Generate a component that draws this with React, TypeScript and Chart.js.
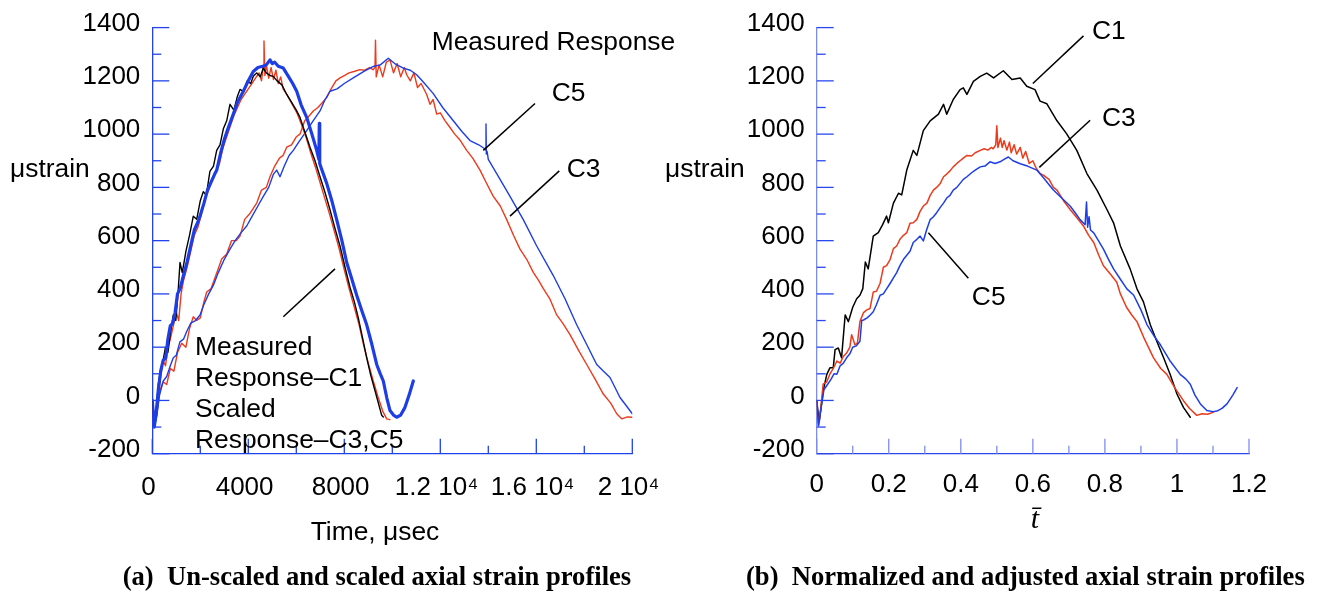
import React, { useEffect, useRef } from "react";
import { Chart, registerables } from "chart.js";

Chart.register(...registerables);

const SANS = '"Liberation Sans", Arial, Helvetica, sans-serif';
const SERIF = '"Liberation Serif", "Times New Roman", serif';

const AXIS_A = "#2142ef";
const AXIS_B_H = "#2a48ef";
const AXIS_B_V = "#7d8cf1";
const RED = "#ec3a1c";
const BLUE = "#1d3ee6";
const BLACK = "#000000";

// ---------------- Panel (a): time in microseconds ----------------
const c1MeasT = [0, 80, 160, 250, 350, 450, 550, 650, 750, 875, 980, 1083, 1154, 1250, 1400, 1550, 1708, 1850, 2000, 2125, 2250, 2400, 2550, 2683, 2820, 2960, 3100, 3237, 3400, 3540, 3654, 3800, 3950, 4100, 4208, 4350, 4500, 4625, 4750, 4900, 5042, 5200, 5400, 5600, 5800, 6000, 6154, 6350, 6571, 6780, 6988, 7200, 7404, 7600, 7821, 8030, 8237, 8420, 8583, 8750, 8933, 9100, 9300, 9450, 9558, 9625];
const c1MeasV = [0, -95, -40, 60, 118, 150, 200, 180, 250, 321, 300, 419, 518, 480, 560, 620, 692, 680, 750, 784, 770, 860, 880, 939, 960, 1020, 1050, 1112, 1090, 1140, 1168, 1160, 1200, 1190, 1217, 1230, 1215, 1248, 1230, 1220, 1217, 1200, 1185, 1149, 1120, 1090, 1063, 1010, 951, 900, 840, 780, 716, 650, 580, 500, 425, 370, 310, 240, 160, 95, 30, -20, -56, -62];

const c3ScaledT = [0, 80, 160, 250, 350, 450, 550, 650, 750, 875, 1000, 1100, 1200, 1300, 1450, 1600, 1750, 1900, 2050, 2200, 2350, 2500, 2650, 2800, 2950, 3100, 3250, 3400, 3550, 3700, 3850, 4000, 4150, 4300, 4450, 4550, 4620, 4654, 4690, 4750, 4850, 4950, 5050, 5150, 5250, 5350, 5450, 5600, 5750, 5900, 6050, 6200, 6400, 6600, 6800, 7000, 7200, 7400, 7600, 7800, 8000, 8200, 8400, 8600, 8800, 9000, 9200, 9400, 9600, 9767, 9900];
const c3ScaledV = [0, -100, -60, 20, 90, 150, 130, 200, 230, 280, 330, 300, 400, 450, 500, 560, 620, 650, 700, 760, 790, 830, 860, 890, 950, 990, 1030, 1070, 1100, 1130, 1150, 1170, 1190, 1210, 1230, 1200, 1250, 1350, 1220, 1260, 1210, 1250, 1205, 1240, 1190, 1215, 1170, 1150, 1125, 1100, 1075, 1040, 990, 930, 875, 815, 755, 695, 630, 565, 490, 420, 355, 290, 210, 140, 75, 15, -40, -69, -72];

const c5ScaledT = [0, 80, 160, 250, 350, 450, 558, 650, 750, 850, 950, 1050, 1154, 1300, 1450, 1600, 1750, 1900, 1988, 2150, 2300, 2450, 2600, 2683, 2850, 3000, 3150, 3375, 3550, 3792, 4000, 4208, 4400, 4600, 4750, 4904, 5000, 5100, 5250, 5458, 5650, 5850, 6017, 6200, 6433, 6650, 6850, 6940, 6958, 6976, 7050, 7267, 7480, 7683, 7900, 8100, 8300, 8517, 8720, 8933, 9150, 9350, 9500, 9625, 9770, 9904, 10050, 10183, 10350, 10529, 10700, 10875];
const c5ScaledV = [0, -100, -50, 40, 110, 150, 160, 230, 280, 290, 330, 400, 419, 470, 520, 580, 640, 670, 692, 740, 790, 820, 850, 864, 930, 980, 1020, 1075, 1120, 1161, 1200, 1235, 1250, 1255, 1260, 1279, 1265, 1270, 1255, 1248, 1220, 1190, 1161, 1110, 1063, 1000, 939, 905, 1040, 890, 870, 815, 750, 679, 600, 518, 460, 395, 340, 284, 210, 135, 100, 73, 10, -38, -55, -63, -55, -26, 20, 73];

const c3MeasT = [0, 100, 200, 321, 450, 600, 750, 900, 1050, 1225, 1400, 1550, 1708, 1850, 2000, 2150, 2267, 2450, 2650, 2892, 3100, 3300, 3500, 3654, 3850, 4050, 4200, 4350, 4550, 4750, 4904, 5100, 5300, 5450, 5600, 5800, 6000, 6154, 6350, 6550, 6708, 6900, 7100, 7267, 7450, 7650, 7821, 8000, 8200, 8400, 8654, 8850, 9050, 9200, 9279, 9300, 9330, 9450, 9600, 9750, 9904, 10050, 10200, 10350, 10500, 10600, 10750, 10900, 11050, 11200, 11433, 11571, 11700, 11850, 12000, 12200, 12404, 12600, 12800, 13100, 13350, 13654, 13900, 14208, 14500, 14767, 15050, 15321, 15600, 15875, 16100, 16292, 16571, 16850, 17100, 17404, 17750, 18100, 18450, 18792, 19100, 19350, 19558, 19800, 20000];
const c3MeasV = [0, -95, -40, 36, 70, 60, 120, 110, 180, 215, 200, 270, 314, 300, 310, 370, 407, 420, 470, 531, 550, 600, 600, 617, 680, 700, 720, 741, 790, 800, 840, 880, 910, 920, 951, 960, 990, 1000, 1050, 1070, 1087, 1100, 1120, 1137, 1170, 1200, 1211, 1220, 1230, 1235, 1242, 1240, 1250, 1242, 1250, 1353, 1215, 1260, 1215, 1270, 1279, 1230, 1265, 1215, 1250, 1223, 1200, 1230, 1175, 1190, 1149, 1112, 1130, 1075, 1080, 1050, 1025, 1000, 980, 939, 910, 865, 820, 766, 730, 679, 620, 568, 530, 481, 450, 420, 380, 321, 290, 247, 190, 135, 80, 24, -10, -50, -69, -62, -63];

const c5MeasT = [0, 100, 200, 300, 458, 600, 750, 875, 1000, 1150, 1300, 1433, 1600, 1800, 1988, 2150, 2350, 2542, 2750, 3000, 3237, 3450, 3700, 3933, 4150, 4400, 4625, 4850, 5050, 5183, 5321, 5500, 5700, 5875, 6100, 6433, 6700, 6988, 7200, 7404, 7700, 8000, 8375, 8800, 9208, 9500, 9833, 10100, 10458, 10750, 11017, 11300, 11708, 12100, 12542, 12900, 13238, 13600, 13850, 13890, 13904, 13918, 13950, 14000, 14350, 14904, 15458, 16017, 16708, 17196, 17683, 18100, 18517, 18800, 19071, 19488, 19750, 20000];
const c5MeasV = [0, -95, -50, 20, 73, 90, 130, 160, 170, 220, 230, 259, 290, 300, 321, 360, 400, 432, 480, 530, 568, 600, 630, 655, 690, 730, 766, 800, 850, 865, 840, 880, 920, 939, 970, 1013, 1050, 1087, 1130, 1161, 1170, 1190, 1211, 1235, 1254, 1260, 1285, 1265, 1248, 1240, 1223, 1195, 1152, 1100, 1050, 1010, 976, 960, 945, 940, 1038, 925, 935, 905, 852, 766, 679, 580, 469, 382, 284, 210, 135, 110, 86, 11, -20, -50];

// ---------------- Panel (b): normalized time ----------------
const c1NormT = [0, 0.007, 0.018, 0.028, 0.037, 0.046, 0.051, 0.06, 0.069, 0.079, 0.088, 0.1, 0.111, 0.12, 0.128, 0.135, 0.143, 0.157, 0.171, 0.183, 0.194, 0.199, 0.213, 0.227, 0.236, 0.25, 0.268, 0.278, 0.296, 0.315, 0.338, 0.352, 0.361, 0.379, 0.398, 0.407, 0.417, 0.435, 0.454, 0.472, 0.491, 0.518, 0.542, 0.565, 0.583, 0.606, 0.62, 0.639, 0.667, 0.694, 0.722, 0.75, 0.778, 0.806, 0.824, 0.843, 0.87, 0.889, 0.907, 0.926, 0.944, 0.963, 0.981, 1.0, 1.018, 1.037];
const c1NormV = [0, -81, 36, 98, 123, 123, 191, 197, 160, 321, 296, 350, 382, 395, 420, 520, 494, 617, 630, 660, 692, 667, 741, 778, 772, 865, 939, 920, 1013, 1050, 1075, 1112, 1075, 1130, 1167, 1174, 1149, 1198, 1217, 1229, 1211, 1238, 1205, 1211, 1180, 1167, 1124, 1114, 1050, 1001, 939, 852, 790, 716, 667, 580, 494, 419, 370, 284, 222, 160, 98, 24, -26, -63];

const c3NormT = [0, 0.005, 0.012, 0.018, 0.028, 0.037, 0.046, 0.056, 0.065, 0.074, 0.083, 0.092, 0.097, 0.106, 0.113, 0.12, 0.13, 0.139, 0.148, 0.157, 0.166, 0.176, 0.185, 0.194, 0.204, 0.213, 0.222, 0.231, 0.241, 0.25, 0.259, 0.268, 0.278, 0.287, 0.296, 0.306, 0.315, 0.324, 0.333, 0.343, 0.352, 0.361, 0.37, 0.379, 0.389, 0.398, 0.407, 0.417, 0.43, 0.44, 0.454, 0.465, 0.475, 0.485, 0.49, 0.497, 0.5, 0.503, 0.51, 0.515, 0.52, 0.528, 0.535, 0.54, 0.548, 0.555, 0.565, 0.572, 0.58, 0.59, 0.6, 0.61, 0.62, 0.63, 0.645, 0.657, 0.667, 0.685, 0.704, 0.72, 0.741, 0.755, 0.769, 0.783, 0.796, 0.815, 0.833, 0.843, 0.86, 0.875, 0.889, 0.91, 0.935, 0.955, 0.972, 0.995, 1.018, 1.035, 1.055, 1.07, 1.085, 1.102];
const c3NormV = [0, -95, -20, 61, 70, 100, 120, 148, 140, 165, 178, 200, 247, 209, 215, 296, 330, 340, 345, 407, 410, 440, 500, 506, 530, 570, 580, 605, 620, 630, 665, 667, 680, 710, 730, 741, 770, 790, 800, 815, 840, 850, 862, 877, 890, 900, 910, 920, 918, 930, 939, 945, 940, 950, 945, 960, 1031, 950, 985, 950, 975, 940, 970, 930, 960, 925, 950, 910, 935, 890, 900, 870, 852, 845, 830, 800, 790, 750, 716, 690, 654, 620, 593, 545, 506, 475, 444, 400, 350, 320, 296, 230, 160, 120, 98, 45, -1, -30, -56, -50, -52, -44];

const c5NormT = [0, 0.005, 0.012, 0.02, 0.03, 0.04, 0.048, 0.056, 0.065, 0.074, 0.083, 0.092, 0.1, 0.11, 0.12, 0.125, 0.13, 0.14, 0.148, 0.157, 0.166, 0.176, 0.185, 0.194, 0.204, 0.213, 0.222, 0.231, 0.241, 0.25, 0.259, 0.268, 0.278, 0.287, 0.296, 0.305, 0.315, 0.324, 0.333, 0.343, 0.352, 0.361, 0.37, 0.379, 0.389, 0.398, 0.407, 0.417, 0.43, 0.44, 0.454, 0.467, 0.481, 0.495, 0.509, 0.52, 0.532, 0.545, 0.565, 0.585, 0.611, 0.63, 0.645, 0.657, 0.68, 0.704, 0.72, 0.731, 0.745, 0.749, 0.752, 0.756, 0.76, 0.769, 0.782, 0.796, 0.81, 0.824, 0.843, 0.861, 0.88, 0.9, 0.917, 0.935, 0.954, 0.98, 1.009, 1.025, 1.037, 1.05, 1.065, 1.083, 1.1, 1.111, 1.125, 1.139, 1.155, 1.167];
const c5NormV = [0, -95, -30, 40, 60, 80, 100, 98, 130, 140, 160, 175, 200, 205, 222, 300, 302, 310, 320, 333, 360, 395, 400, 419, 440, 460, 480, 506, 530, 545, 560, 593, 605, 617, 599, 640, 679, 690, 705, 725, 741, 760, 770, 790, 800, 815, 830, 840, 855, 865, 877, 880, 896, 890, 896, 905, 914, 900, 889, 880, 865, 835, 810, 790, 760, 729, 700, 679, 660, 745, 650, 690, 640, 629, 600, 568, 530, 494, 455, 419, 395, 340, 284, 245, 209, 150, 98, 80, 61, 20, -13, -38, -42, -40, -30, -13, 20, 48];

// ---------------- Ticks ----------------
const xTicksA = [0, 4000, 8000, 12000, 16000, 20000];
const xTickLabelsA = ["0", "4000", "8000", "1.2 10\u2074", "1.6 10\u2074", "2 10\u2074"];
const xTicksB = [0, 0.2, 0.4, 0.6, 0.8, 1, 1.2];
const xTickLabelsB = ["0", "0.2", "0.4", "0.6", "0.8", "1", "1.2"];
const yTicks = [-200, 0, 200, 400, 600, 800, 1000, 1200, 1400];
const yTickLabels = ["-200", "0", "200", "400", "600", "800", "1000", "1200", "1400"];

const makeXY = (xs: number[], ys: number[]) => xs.map((x, i) => ({ x, y: ys[i] }));

function labelFor(v: number, values: number[], labels: string[]): string {
  for (let i = 0; i < values.length; i++) {
    if (Math.abs(v - values[i]) < 1e-6 * Math.max(1, Math.abs(values[i]))) return labels[i];
  }
  return "";
}

type Ann =
  | { kind: "text"; text: string; x: number; y: number; data: boolean; font: string; align?: CanvasTextAlign }
  | { kind: "line"; x1: number; y1: number; x2: number; y2: number };

function tickMarksPlugin(colorV: string, colorH: string, xMajors: number[], xLen: [number, number], yLen: [number, number]) {
  return {
    id: "tickMarks",
    afterDraw(chart: any) {
      const { ctx, chartArea, scales } = chart;
      ctx.save();
      ctx.lineWidth = 1.3;
      ctx.strokeStyle = colorV;
      for (const t of scales.x.ticks) {
        const px = scales.x.getPixelForValue(t.value);
        const major = labelFor(t.value, xMajors, xMajors.map(String)) !== "";
        ctx.beginPath();
        ctx.moveTo(px, chartArea.bottom);
        ctx.lineTo(px, chartArea.bottom - (major ? xLen[0] : xLen[1]));
        ctx.stroke();
      }
      ctx.strokeStyle = colorH;
      for (const t of scales.y.ticks) {
        const py = scales.y.getPixelForValue(t.value);
        const major = labelFor(t.value, yTicks, yTickLabels) !== "";
        ctx.beginPath();
        ctx.moveTo(chartArea.left, py);
        ctx.lineTo(chartArea.left + (major ? yLen[0] : yLen[1]), py);
        ctx.stroke();
      }
      ctx.restore();
    },
  };
}

function annotationPlugin(items: Ann[]) {
  return {
    id: "annotations",
    afterDraw(chart: any) {
      const { ctx, scales } = chart;
      const X = (v: number) => scales.x.getPixelForValue(v);
      const Y = (v: number) => scales.y.getPixelForValue(v);
      ctx.save();
      for (const a of items) {
        if (a.kind === "line") {
          ctx.strokeStyle = "#000";
          ctx.lineWidth = 1.5;
          ctx.beginPath();
          ctx.moveTo(X(a.x1), Y(a.y1));
          ctx.lineTo(X(a.x2), Y(a.y2));
          ctx.stroke();
        } else {
          ctx.fillStyle = "#000";
          ctx.font = a.font;
          ctx.textAlign = a.align || "left";
          ctx.textBaseline = "alphabetic";
          const px = a.data ? X(a.x) : a.x;
          const py = a.data ? Y(a.y) : a.y;
          ctx.fillText(a.text, px, py);
        }
      }
      ctx.restore();
    },
  };
}

const F26 = `26.4px ${SANS}`;
const CAPTION = `bold 26.6px ${SERIF}`;

function baseOptions(opts: {
  xMin: number; xMax: number; xStep: number; xVals: number[]; xLabels: string[];
  axisV: string; axisH: string; padRight: number; yWidth: number; xPad: number; xLabelOffset: number;
}) {
  return {
    animation: false,
    responsive: false,
    devicePixelRatio: 1,
    layout: { padding: { left: 0, top: 22.3, right: opts.padRight, bottom: 0 } },
    plugins: { legend: { display: false }, tooltip: { enabled: false }, title: { display: false } },
    elements: { point: { radius: 0 }, line: { tension: 0, borderJoinStyle: "round", borderCapStyle: "round", fill: false } },
    scales: {
      x: {
        type: "linear",
        min: opts.xMin,
        max: opts.xMax,
        grid: { display: false, drawTicks: false },
        border: { display: true, color: opts.axisH, width: 1.3 },
        ticks: {
          stepSize: opts.xStep,
          autoSkip: false,
          maxRotation: 0,
          minRotation: 0,
          padding: opts.xPad,
          labelOffset: opts.xLabelOffset,
          color: "#000",
          font: { size: 26, family: SANS },
          callback: (v: number) => labelFor(v, opts.xVals, opts.xLabels),
        },
        afterFit: (s: any) => { s.height = 594 - 453.7; },
      },
      y: {
        type: "linear",
        min: -200,
        max: 1400,
        grid: { display: false, drawTicks: false },
        border: { display: true, color: opts.axisV, width: 1.3 },
        ticks: {
          stepSize: 100,
          autoSkip: false,
          padding: 12,
          labelOffset: -4,
          color: "#000",
          font: { size: 26, family: SANS },
          callback: (v: number) => labelFor(v, yTicks, yTickLabels),
        },
        afterFit: (s: any) => { s.width = opts.yWidth; },
      },
    },
  };
}

const LEFT_A = 0;
const WIDTH_A = 700;
const LEFT_B = 650;
const WIDTH_B = 670;

function configA(): any {
  const ann: Ann[] = [
    { kind: "text", text: "\u03bcstrain", x: 10 - LEFT_A, y: 176.7, data: false, font: F26 },
    { kind: "text", text: "Time, \u03bcsec", x: 375 - LEFT_A, y: 540, data: false, font: F26, align: "center" },
    { kind: "text", text: "(a)  Un-scaled and scaled axial strain profiles", x: 122.7 - LEFT_A, y: 585, data: false, font: CAPTION },
    { kind: "text", text: "Measured Response", x: 11642, y: 1316, data: true, font: F26 },
    { kind: "text", text: "C5", x: 16642, y: 1124, data: true, font: F26 },
    { kind: "text", text: "C3", x: 17267, y: 840, data: true, font: F26 },
    { kind: "line", x1: 15946, y1: 1115, x2: 13792, y2: 939 },
    { kind: "line", x1: 16958, y1: 862, x2: 14904, y2: 692 },
    { kind: "line", x1: 7612, y1: 494, x2: 5458, y2: 314 },
    { kind: "text", text: "Measured", x: 1779, y: 172, data: true, font: F26 },
    { kind: "text", text: "Response\u2013C1", x: 1779, y: 55, data: true, font: F26 },
    { kind: "text", text: "Scaled", x: 1779, y: -63, data: true, font: F26 },
    { kind: "text", text: "Response\u2013C3,C5", x: 1779, y: -180, data: true, font: F26 },
  ];
  return {
    type: "line",
    data: {
      datasets: [
        { label: "C5 scaled", data: makeXY(c5ScaledT, c5ScaledV), borderColor: BLUE, borderWidth: 3.2 },
        { label: "C1 measured", data: makeXY(c1MeasT, c1MeasV), borderColor: BLACK, borderWidth: 1.4 },
        { label: "C3 scaled", data: makeXY(c3ScaledT, c3ScaledV), borderColor: RED, borderWidth: 1.4 },
        { label: "C5 measured", data: makeXY(c5MeasT, c5MeasV), borderColor: BLUE, borderWidth: 1.4 },
        { label: "C3 measured", data: makeXY(c3MeasT, c3MeasV), borderColor: RED, borderWidth: 1.4 },
      ],
    },
    options: baseOptions({
      xMin: 0, xMax: 20000, xStep: 2000, xVals: xTicksA, xLabels: xTickLabelsA,
      axisV: AXIS_A, axisH: AXIS_A, padRight: WIDTH_A - (632.3 - LEFT_A), yWidth: 152.3 - LEFT_A, xPad: 19, xLabelOffset: -3.7,
    }),
    plugins: [tickMarksPlugin(AXIS_A, AXIS_A, xTicksA, [15, 8], [17, 9]), annotationPlugin(ann)],
  };
}

function configB(): any {
  const ann: Ann[] = [
    { kind: "text", text: "\u03bcstrain", x: 665 - LEFT_B, y: 176.7, data: false, font: F26 },
    { kind: "text", text: "t\u0304", x: 1035 - LEFT_B, y: 528, data: false, font: `italic 30px ${SERIF}`, align: "center" },
    { kind: "text", text: "(b)  Normalized and adjusted axial strain profiles", x: 746 - LEFT_B, y: 585, data: false, font: CAPTION },
    { kind: "text", text: "C1", x: 0.7639, y: 1359, data: true, font: F26 },
    { kind: "text", text: "C3", x: 0.7917, y: 1031, data: true, font: F26 },
    { kind: "text", text: "C5", x: 0.4306, y: 358, data: true, font: F26 },
    { kind: "line", x1: 0.7406, y1: 1369, x2: 0.6, y2: 1190 },
    { kind: "line", x1: 0.759, y1: 1052, x2: 0.618, y2: 875 },
    { kind: "line", x1: 0.31, y1: 630, x2: 0.421, y2: 459 },
  ];
  return {
    type: "line",
    data: {
      datasets: [
        { label: "C5", data: makeXY(c5NormT, c5NormV), borderColor: BLUE, borderWidth: 1.5 },
        { label: "C3", data: makeXY(c3NormT, c3NormV), borderColor: RED, borderWidth: 1.5 },
        { label: "C1", data: makeXY(c1NormT, c1NormV), borderColor: BLACK, borderWidth: 1.5 },
      ],
    },
    options: baseOptions({
      xMin: 0, xMax: 1.2, xStep: 0.1, xVals: xTicksB, xLabels: xTickLabelsB,
      axisV: AXIS_B_V, axisH: AXIS_B_H, padRight: WIDTH_B - (1249 - LEFT_B), yWidth: 816.7 - LEFT_B, xPad: 15.7, xLabelOffset: 0,
    }),
    plugins: [tickMarksPlugin(AXIS_B_V, AXIS_B_H, xTicksB, [15, 8], [17, 9]), annotationPlugin(ann)],
  };
}

function Panel({ left, width, make }: { left: number; width: number; make: () => any }) {
  const ref = useRef<HTMLCanvasElement | null>(null);
  useEffect(() => {
    if (!ref.current) return;
    const chart = new Chart(ref.current, make());
    return () => chart.destroy();
  }, []);
  return (
    <canvas
      ref={ref}
      width={width}
      height={594}
      style={{ position: "absolute", left, top: 0, width, height: 594 }}
    />
  );
}

export default function App() {
  return (
    <div style={{ position: "absolute", left: 0, top: 0, width: 1320, height: 594, background: "#fff" }}>
      <Panel left={LEFT_A} width={WIDTH_A} make={configA} />
      <Panel left={LEFT_B} width={WIDTH_B} make={configB} />
    </div>
  );
}
